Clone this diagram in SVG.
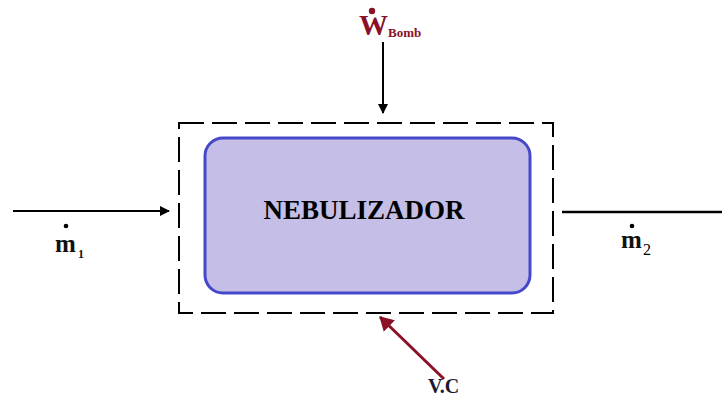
<svg xmlns="http://www.w3.org/2000/svg" width="722" height="400" viewBox="0 0 722 400">
<style>
text{font-family:'Liberation Serif','DejaVu Serif',serif;font-weight:bold}
.blk{fill:#111}
.red{fill:#8b1128}
</style>
<defs>
<marker id="ah" markerWidth="10" markerHeight="10" refX="9" refY="5" orient="auto" markerUnits="userSpaceOnUse">
<path d="M0,0 L10,5 L0,10 Z" fill="#000"/>
</marker>
<marker id="ahr" markerWidth="16" markerHeight="16" refX="13" refY="8" orient="auto" markerUnits="userSpaceOnUse">
<path d="M0,0 L14,8 L0,16 Z" fill="#8b1128"/>
</marker>
</defs>
<rect width="722" height="400" fill="#fff"/>
<g id="vc">
<rect x="179" y="123" width="374" height="190" fill="none" stroke="#000" stroke-width="2" stroke-dasharray="25,8"/>
</g>
<g id="nebulizador">
<rect x="205" y="138" width="325" height="155" rx="18" ry="18" fill="#c5bee6" stroke="#4548c8" stroke-width="3"/>
<text x="364" y="219" font-size="27" text-anchor="middle" fill="#000">NEBULIZADOR</text>
</g>
<g id="connectors">
<line x1="383" y1="42" x2="383" y2="113" stroke="#000" stroke-width="2" marker-end="url(#ah)"/>
<line x1="13" y1="211" x2="169" y2="211" stroke="#000" stroke-width="2" marker-end="url(#ah)"/>
<line x1="562" y1="212" x2="722" y2="212" stroke="#000" stroke-width="2.5"/>
<line x1="444" y1="379" x2="380" y2="317" stroke="#8b1128" stroke-width="3" marker-end="url(#ahr)"/>
</g>
<g id="labels">
<circle cx="372" cy="11" r="3.2" fill="#8b1128"/>
<text x="359" y="35" class="red" font-size="29">W</text>
<text x="388" y="37" class="red" font-size="13">Bomb</text>
<circle cx="66" cy="226" r="2.3" fill="#000"/>
<text x="55" y="252" class="blk" font-size="25">m</text>
<text x="78" y="258" class="blk" font-size="12">1</text>
<circle cx="632" cy="226" r="2.3" fill="#000"/>
<text x="621" y="248" class="blk" font-size="25">m</text>
<text x="643" y="255" font-size="16" fill="#000" style="font-weight:normal">2</text>
<text x="428" y="393" font-size="20" fill="#1a1a33">V.C</text>
</g>
</svg>
